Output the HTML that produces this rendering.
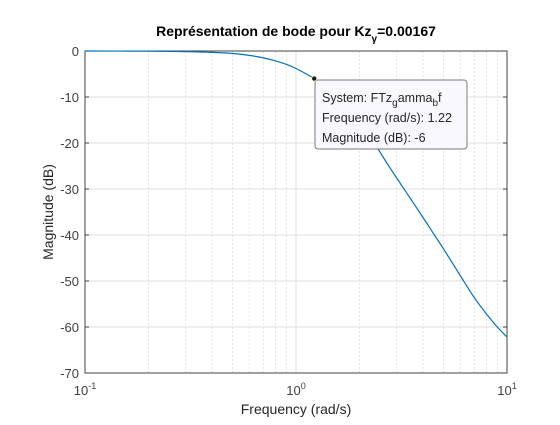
<!DOCTYPE html>
<html><head><meta charset="utf-8"><style>
body{margin:0;background:#fff;}
svg{font-family:"Liberation Sans",sans-serif;}
</style></head><body>
<svg id="c" width="560" height="420"></svg>
<script>
const freqs=[0.1,0.2,0.3,0.4,0.5,0.6,0.7,0.8,0.9,1.0,1.1,1.22,1.3,1.5,1.7,2,2.2,2.45,2.7,3,3.5,4,4.5,5,6,7,8,9,10];
const mags=[0,-0.05,-0.15,-0.3,-0.55,-0.95,-1.5,-2.15,-2.9,-3.8,-4.8,-6,-6.9,-9.2,-11.6,-15.2,-17.9,-21.3,-24.4,-27.6,-32.2,-36.2,-39.8,-43,-48.8,-53.6,-57.2,-60,-62.2];
const yTicks=[0,-10,-20,-30,-40,-50,-60,-70];
const xDecades=[-1,0,1];
const marker={f:1.22,m:-6};
const L=85,R=507,T=51,B=373;
const xs=f=>L+(Math.log10(f)+1)/2*(R-L);
const ys=m=>T+(0-m)/70*(B-T);
const NS="http://www.w3.org/2000/svg";
const svg=document.getElementById('c');
function mk(t,a,p){const e=document.createElementNS(NS,t);for(const k in a)e.setAttribute(k,a[k]);(p||svg).appendChild(e);return e;}
mk('rect',{x:L,y:T,width:R-L,height:B-T,fill:'#fff'});
for(let d=-1;d<1;d++)for(let k=2;k<=9;k++){const x=xs(k*Math.pow(10,d));
const g=mk('line',{x1:x,x2:x,y1:T,y2:B,stroke:'#dcdcdc','stroke-dasharray':'2,2','stroke-width':0.8});

}
for(const d of xDecades){const x=xs(Math.pow(10,d));
const g=mk('line',{x1:x,x2:x,y1:T,y2:B,stroke:'#dedede'});


const t=mk('text',{x:x,y:B+22,'text-anchor':'middle','font-size':13,fill:'#404040'});


t.textContent='10';const s=mk('tspan',{dy:-6,'font-size':9},t);s.textContent=String(d);}
for(const v of yTicks){const y=ys(v);
const g=mk('line',{x1:L,x2:R,y1:y,y2:y,stroke:'#dedede'});


mk('line',{x1:L,x2:L+4,y1:y,y2:y,stroke:'#404040'});
mk('line',{x1:R,x2:R-4,y1:y,y2:y,stroke:'#404040'});
const t=mk('text',{x:L-6,y:y+5,'text-anchor':'end','font-size':13,fill:'#404040'});


t.textContent=String(v);}
const fr=mk('rect',{x:L,y:T,width:R-L,height:B-T,fill:'none',stroke:'#404040'});


const P=freqs.map((f,i)=>[xs(f),ys(mags[i])]);
let d='M'+P[0][0].toFixed(1)+','+P[0][1].toFixed(1);
for(let i=0;i<P.length-1;i++){const p0=P[Math.max(0,i-1)],p1=P[i],p2=P[i+1],p3=P[Math.min(P.length-1,i+2)];
const c1=[p1[0]+(p2[0]-p0[0])/6,p1[1]+(p2[1]-p0[1])/6],c2=[p2[0]-(p3[0]-p1[0])/6,p2[1]-(p3[1]-p1[1])/6];
d+='C'+c1.map(v=>v.toFixed(1)).join(',')+' '+c2.map(v=>v.toFixed(1)).join(',')+' '+p2.map(v=>v.toFixed(1)).join(',');}
const pth=mk('path',{d:d,fill:'none',stroke:'#0072bd','stroke-width':1.2});


const mx=xs(marker.f),my=ys(marker.m);
const tip=mk('g',{});


mk('rect',{x:315,y:80,width:152,height:69,rx:3,fill:'#f8f8fe',stroke:'#7a7a7a'},tip);
const lines=[['System: FTz','g','amma','b','f'],['Frequency (rad/s): 1.22'],['Magnitude (dB): -6']];
lines.forEach((ln,i)=>{const t=mk('text',{x:322,y:102+i*20,'font-size':12.5,fill:'#262626'},tip);
if(ln.length==1)t.textContent=ln[0];else{ln.forEach((p,j)=>{const s=mk('tspan',{},t);s.textContent=p;if(j==1||j==3){s.setAttribute('dy',4);s.setAttribute('font-size',10);}if(j==2||j==4)s.setAttribute('dy',-4);});}});
const dot=mk('circle',{cx:mx,cy:my,r:2.6,fill:'#1a1a1a',stroke:'#ffffc0','stroke-width':0.8});


const ti=mk('text',{x:296,y:36,'text-anchor':'middle','font-size':14,'font-weight':'bold',fill:'#000'});


ti.textContent='Représentation de bode pour Kz';
let s=mk('tspan',{dy:6,'font-size':10},ti);s.textContent='γ';
s=mk('tspan',{dy:-6},ti);s.textContent='=0.00167';
const xl=mk('text',{x:296,y:414,'text-anchor':'middle','font-size':14,fill:'#262626'});


xl.textContent='Frequency  (rad/s)';
const yl=mk('text',{x:0,y:0,'text-anchor':'middle','font-size':14,fill:'#262626',transform:'translate(53,212) rotate(-90)'});


yl.textContent='Magnitude (dB)';
</script>
</body></html>
